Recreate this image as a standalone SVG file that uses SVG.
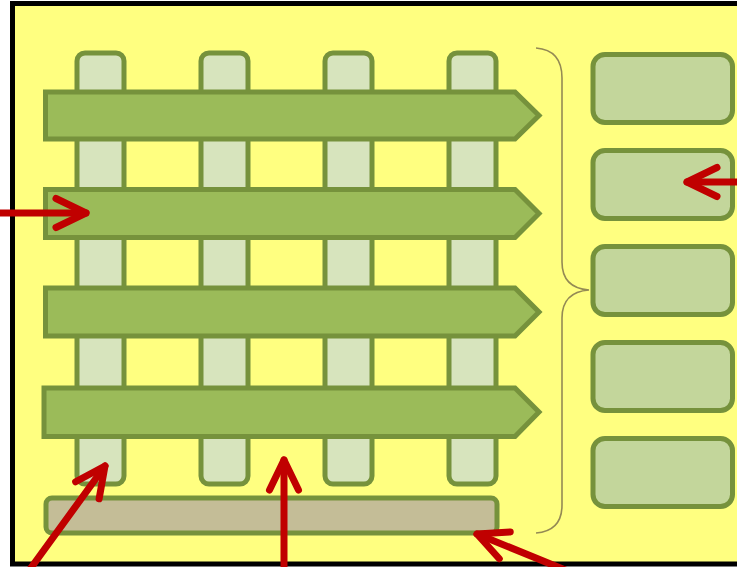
<svg xmlns="http://www.w3.org/2000/svg" width="737" height="567" viewBox="0 0 737 567">
<style>
.post{fill:#d7e4bd;stroke:#76923c;stroke-width:5}
.band{fill:#9bbb59;stroke:#76923c;stroke-width:5;stroke-linejoin:miter}
.box{fill:#c3d69b;stroke:#76923c;stroke-width:5}
.bar{fill:#c4bd97;stroke:#76923c;stroke-width:5}
.brace{fill:none;stroke:#948a54;stroke-width:1.6}
.red{stroke:#c00000;stroke-width:7;stroke-linecap:round;fill:none}
</style>
<defs>
<marker id="chev" markerUnits="userSpaceOnUse" markerWidth="80" markerHeight="80" viewBox="-40 -40 80 80" refX="0" refY="0" orient="auto" overflow="visible">
<path d="M-30,-14.5 L0,0 L-30,14.5" fill="none" stroke="#c00000" stroke-width="7" stroke-linecap="round" stroke-linejoin="round"/>
</marker>
</defs>
<rect id="frame" x="12.5" y="3.5" width="740" height="560.5" fill="#ffff80" stroke="#000" stroke-width="5"/>
<g id="bar"><rect class="bar" x="46" y="498" width="451" height="35" rx="6"/></g>
<g id="posts">
<rect id="post1" class="post" x="77" y="53" width="47" height="431" rx="8"/>
<rect id="post2" class="post" x="201" y="53" width="47" height="431" rx="8"/>
<rect id="post3" class="post" x="325" y="53" width="47" height="431" rx="8"/>
<rect id="post4" class="post" x="449" y="53" width="47" height="431" rx="8"/>
</g>
<g id="bands">
<path id="band1" class="band" d="M45.5,92 H515 L539,115.5 L515,139 H45.5 Z"/>
<path id="band2" class="band" d="M45.5,189.5 H515 L539,213.5 L515,237.5 H45.5 Z"/>
<path id="band3" class="band" d="M45.5,288 H515 L539,312 L515,336 H45.5 Z"/>
<path id="band4" class="band" d="M44,388 H515 L539,412 L515,436.5 H44 Z"/>
</g>
<g id="boxes">
<rect id="box1" class="box" x="593" y="54.5" width="139.5" height="68" rx="12"/>
<rect id="box2" class="box" x="593" y="150.5" width="139.5" height="68" rx="12"/>
<rect id="box3" class="box" x="593" y="246.5" width="139.5" height="68" rx="12"/>
<rect id="box4" class="box" x="593" y="342.5" width="139.5" height="68" rx="12"/>
<rect id="box5" class="box" x="593" y="438.5" width="139.5" height="68" rx="12"/>
</g>
<g id="brace"><path class="brace" d="M536,48 Q562,50 562,78 V262 Q562,288 589,290 Q562,292 562,318 V505 Q562,531 536,533"/></g>
<g id="connectors">
<line class="red" x1="-5" y1="213" x2="86" y2="213" marker-end="url(#chev)"/>
<line class="red" x1="745" y1="182" x2="687" y2="182" marker-end="url(#chev)"/>
<line class="red" x1="28" y1="572" x2="105" y2="466" marker-end="url(#chev)"/>
<line class="red" x1="284" y1="572" x2="284" y2="460" marker-end="url(#chev)"/>
<line class="red" x1="575" y1="574" x2="477" y2="534" marker-end="url(#chev)"/>
</g>
</svg>
